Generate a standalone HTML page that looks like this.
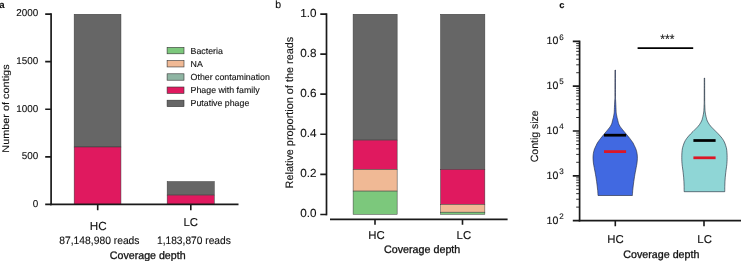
<!DOCTYPE html>
<html><head><meta charset="utf-8">
<style>
html,body{margin:0;padding:0;background:#fff;}
.cd{stroke:#111;stroke-width:0.3px;}
text{stroke:#111;stroke-width:0.12px;}
svg{display:block;will-change:transform;opacity:0.999;}
text{font-family:"Liberation Sans",sans-serif;fill:#111;text-rendering:geometricPrecision;}
</style></head><body>
<svg width="741" height="261" viewBox="0 0 741 261">
<rect width="741" height="261" fill="#fff"/>

<!-- ===== Panel a ===== -->
<g id="pa">
<text x="-0.8" y="7.6" font-size="9.6" font-weight="bold">a</text>
<!-- bars -->
<g stroke="#3a3a3a" stroke-width="0.5">
<rect x="74.15" y="14.25" width="46.8" height="132.75" fill="#666666"/>
<rect x="74.15" y="147" width="46.8" height="57.45" fill="#e0195f"/>
<rect x="167.15" y="181.55" width="47.1" height="13.55" fill="#666666"/>
<rect x="167.15" y="195.1" width="47.1" height="9.35" fill="#e0195f"/>
</g>
<!-- axes -->
<g stroke="#1a1a1a" stroke-width="1.7" fill="none">
<path d="M51.1 13.3V205.3"/>
<path d="M50.25 204.45H238.5"/>
<path d="M45.2 14.1H51.1M45.2 61.7H51.1M45.2 109.25H51.1M45.2 156.85H51.1M45.2 204.45H51.1"/>
<path d="M97.7 204.45V210.2M190.8 204.45V210.2" stroke-width="1.6"/>
</g>
<g font-size="9.9" text-anchor="end">
<text x="38.3" y="16.2">2000</text>
<text x="38.3" y="63.9">1500</text>
<text x="38.3" y="111.6">1000</text>
<text x="38.3" y="159.3">500</text>
<text x="38.3" y="207">0</text>
</g>
<text transform="translate(9 152.7) rotate(-90)" font-size="9.7" textLength="88.3" lengthAdjust="spacingAndGlyphs">Number of contigs</text>
<text x="98.2" y="229.7" font-size="11.7" text-anchor="middle">HC</text>
<text x="190.8" y="225.8" font-size="11.4" text-anchor="middle">LC</text>
<text x="59.3" y="244.3" font-size="10.8" textLength="80.2" lengthAdjust="spacingAndGlyphs">87,148,980 reads</text>
<text x="157" y="244.3" font-size="10.8" textLength="73.8" lengthAdjust="spacingAndGlyphs">1,183,870 reads</text>
<text class="cd" x="109.8" y="259.2" font-size="10.9" textLength="75.8" lengthAdjust="spacingAndGlyphs">Coverage depth</text>
<!-- legend -->
<g stroke="#333" stroke-width="0.6">
<rect x="167.1" y="47.4" width="16.9" height="6.4" fill="#7cc87c"/>
<rect x="167.1" y="60.55" width="16.9" height="6.4" fill="#f0b995"/>
<rect x="167.1" y="73.8" width="16.9" height="6.4" fill="#8fb5a3"/>
<rect x="167.1" y="87" width="16.9" height="6.4" fill="#e0195f"/>
<rect x="167.1" y="100.2" width="16.9" height="6.4" fill="#666666"/>
</g>
<g font-size="8.8">
<text x="190.6" y="53.5">Bacteria</text>
<text x="190.6" y="66.6">NA</text>
<text x="190.6" y="79.8">Other contamination</text>
<text x="190.6" y="93">Phage with family</text>
<text x="190.6" y="106.1">Putative phage</text>
</g>
</g>

<!-- ===== Panel b ===== -->
<g id="pb">
<text x="275.2" y="7.7" font-size="10.5">b</text>
<g stroke="#3a3a3a" stroke-width="0.5">
<rect x="353.1" y="14.25" width="44.05" height="125.85" fill="#666666"/>
<rect x="353.1" y="140.1" width="44.05" height="29.4" fill="#e0195f"/>
<rect x="353.1" y="169.5" width="44.05" height="21.6" fill="#f0b995"/>
<rect x="353.1" y="191.1" width="44.05" height="23.2" fill="#7cc87c"/>
<rect x="440.55" y="14.25" width="44.3" height="155.15" fill="#666666"/>
<rect x="440.55" y="169.4" width="44.3" height="35" fill="#e0195f"/>
<rect x="440.55" y="204.4" width="44.3" height="7.8" fill="#f0b995"/>
<rect x="440.55" y="212.2" width="44.3" height="2.05" fill="#7cc87c"/>
</g>
<g stroke="#1a1a1a" stroke-width="1.7" fill="none">
<path d="M326.5 13.3V215.35"/>
<path d="M320.3 14.1H326.5M320.3 54.15H326.5M320.3 94.2H326.5M320.3 134.25H326.5M320.3 174.3H326.5M320.3 214.5H326.5"/>
<path d="M330 219.4H507.6"/>
<path d="M375 219.4V224.8M462.5 219.4V224.8" stroke-width="1.6"/>
</g>
<g font-size="11.7" text-anchor="end">
<text x="316.4" y="16.6">1.0</text>
<text x="316.4" y="57.2">0.8</text>
<text x="316.4" y="97.1">0.6</text>
<text x="316.4" y="136.9">0.4</text>
<text x="316.4" y="177.1">0.2</text>
<text x="316.4" y="216.8">0.0</text>
</g>
<text transform="translate(292.6 188.4) rotate(-90)" font-size="10.7" textLength="151.6" lengthAdjust="spacingAndGlyphs">Relative proportion of the reads</text>
<text x="376.6" y="239.1" font-size="11.4" text-anchor="middle">HC</text>
<text x="463.9" y="239.1" font-size="11.4" text-anchor="middle">LC</text>
<text class="cd" x="384" y="253.4" font-size="10.9" textLength="76.3" lengthAdjust="spacingAndGlyphs">Coverage depth</text>
</g>

<!-- ===== Panel c ===== -->
<g id="pc">
<text x="559.2" y="7.6" font-size="9.3" font-weight="bold" stroke="none">c</text>
<!-- violins -->
<path id="v1" fill="#4169e1" stroke="#1c2233" stroke-width="0.6" d="M615.40 70.00C615.41 74.17 615.42 90.00 615.45 95.00C615.48 100.00 615.53 98.37 615.60 100.00C615.67 101.63 615.77 103.20 615.85 104.80C615.93 106.40 615.99 108.32 616.05 109.60C616.11 110.88 616.12 111.70 616.20 112.50C616.28 113.30 616.37 113.60 616.50 114.40C616.63 115.20 616.83 116.50 617.00 117.30C617.17 118.10 617.34 118.37 617.55 119.20C617.76 120.03 618.00 121.40 618.25 122.30C618.50 123.20 618.70 123.83 619.05 124.60C619.40 125.37 619.83 126.13 620.35 126.90C620.88 127.67 621.58 128.43 622.20 129.20C622.83 129.97 623.47 130.73 624.10 131.50C624.73 132.27 625.37 133.03 626.00 133.80C626.63 134.57 627.27 135.33 627.90 136.10C628.53 136.87 629.20 137.63 629.80 138.40C630.40 139.17 630.95 139.93 631.50 140.70C632.05 141.47 632.65 142.23 633.10 143.00C633.55 143.77 633.83 144.53 634.20 145.30C634.57 146.07 634.95 146.78 635.30 147.60C635.65 148.42 636.00 149.17 636.30 150.20C636.60 151.23 636.92 152.43 637.10 153.80C637.28 155.17 637.42 156.87 637.40 158.40C637.38 159.93 637.20 161.47 637.00 163.00C636.80 164.53 636.41 166.43 636.20 167.60C635.99 168.77 635.90 169.23 635.75 170.00C635.60 170.77 635.51 171.07 635.30 172.20C635.09 173.33 634.75 175.27 634.50 176.80C634.25 178.33 634.02 179.87 633.80 181.40C633.58 182.93 633.38 184.47 633.20 186.00C633.02 187.53 632.83 189.02 632.70 190.60C632.57 192.18 632.45 194.68 632.40 195.50L598.00 195.50C597.95 194.68 597.83 192.18 597.70 190.60C597.57 189.02 597.38 187.53 597.20 186.00C597.02 184.47 596.82 182.93 596.60 181.40C596.38 179.87 596.15 178.33 595.90 176.80C595.65 175.27 595.31 173.33 595.10 172.20C594.89 171.07 594.80 170.77 594.65 170.00C594.50 169.23 594.41 168.77 594.20 167.60C593.99 166.43 593.60 164.53 593.40 163.00C593.20 161.47 593.02 159.93 593.00 158.40C592.98 156.87 593.12 155.17 593.30 153.80C593.48 152.43 593.80 151.23 594.10 150.20C594.40 149.17 594.75 148.42 595.10 147.60C595.45 146.78 595.83 146.07 596.20 145.30C596.57 144.53 596.85 143.77 597.30 143.00C597.75 142.23 598.35 141.47 598.90 140.70C599.45 139.93 600.00 139.17 600.60 138.40C601.20 137.63 601.87 136.87 602.50 136.10C603.13 135.33 603.77 134.57 604.40 133.80C605.03 133.03 605.67 132.27 606.30 131.50C606.93 130.73 607.58 129.97 608.20 129.20C608.83 128.43 609.53 127.67 610.05 126.90C610.58 126.13 611.00 125.37 611.35 124.60C611.70 123.83 611.90 123.20 612.15 122.30C612.40 121.40 612.64 120.03 612.85 119.20C613.06 118.37 613.23 118.10 613.40 117.30C613.58 116.50 613.77 115.20 613.90 114.40C614.03 113.60 614.12 113.30 614.20 112.50C614.28 111.70 614.29 110.88 614.35 109.60C614.41 108.32 614.48 106.40 614.55 104.80C614.63 103.20 614.73 101.63 614.80 100.00C614.87 98.37 614.92 100.00 614.95 95.00C614.98 90.00 614.99 74.17 615.00 70.00Z"/>
<path id="v2" fill="#8fd6d6" stroke="#1c2233" stroke-width="0.6" d="M704.65 78.00C704.66 81.67 704.68 95.50 704.70 100.00C704.73 104.50 704.76 103.50 704.80 105.00C704.84 106.50 704.89 107.85 704.95 109.00C705.01 110.15 705.06 111.03 705.15 111.90C705.24 112.77 705.36 113.43 705.50 114.20C705.64 114.97 705.82 115.73 706.00 116.50C706.18 117.27 706.45 118.22 706.60 118.80C706.75 119.38 706.67 119.42 706.90 120.00C707.13 120.58 707.58 121.53 708.00 122.30C708.42 123.07 708.85 123.83 709.40 124.60C709.95 125.37 710.60 126.13 711.30 126.90C712.00 127.67 712.83 128.43 713.60 129.20C714.37 129.97 715.13 130.73 715.90 131.50C716.67 132.27 717.47 133.03 718.20 133.80C718.93 134.57 719.63 135.33 720.30 136.10C720.97 136.87 721.63 137.63 722.20 138.40C722.77 139.17 723.27 139.93 723.70 140.70C724.13 141.47 724.48 142.23 724.80 143.00C725.12 143.77 725.35 144.53 725.60 145.30C725.85 146.07 726.10 146.72 726.30 147.60C726.50 148.48 726.67 149.33 726.80 150.60C726.93 151.87 727.05 153.67 727.10 155.20C727.15 156.73 727.13 158.43 727.10 159.80C727.07 161.17 726.96 162.53 726.90 163.40C726.84 164.27 726.84 164.23 726.75 165.00C726.66 165.77 726.52 166.73 726.35 168.00C726.18 169.27 725.93 171.07 725.75 172.60C725.57 174.13 725.38 175.67 725.25 177.20C725.12 178.73 725.03 180.27 724.95 181.80C724.88 183.33 724.83 184.75 724.80 186.40C724.77 188.05 724.76 190.82 724.75 191.70L684.15 191.70C684.14 190.82 684.13 188.05 684.10 186.40C684.07 184.75 684.03 183.33 683.95 181.80C683.88 180.27 683.78 178.73 683.65 177.20C683.52 175.67 683.33 174.13 683.15 172.60C682.97 171.07 682.72 169.27 682.55 168.00C682.38 166.73 682.24 165.77 682.15 165.00C682.06 164.23 682.06 164.27 682.00 163.40C681.94 162.53 681.83 161.17 681.80 159.80C681.77 158.43 681.75 156.73 681.80 155.20C681.85 153.67 681.97 151.87 682.10 150.60C682.23 149.33 682.40 148.48 682.60 147.60C682.80 146.72 683.05 146.07 683.30 145.30C683.55 144.53 683.78 143.77 684.10 143.00C684.42 142.23 684.77 141.47 685.20 140.70C685.63 139.93 686.13 139.17 686.70 138.40C687.27 137.63 687.93 136.87 688.60 136.10C689.27 135.33 689.97 134.57 690.70 133.80C691.43 133.03 692.23 132.27 693.00 131.50C693.77 130.73 694.53 129.97 695.30 129.20C696.07 128.43 696.90 127.67 697.60 126.90C698.30 126.13 698.95 125.37 699.50 124.60C700.05 123.83 700.48 123.07 700.90 122.30C701.32 121.53 701.77 120.58 702.00 120.00C702.23 119.42 702.15 119.38 702.30 118.80C702.45 118.22 702.72 117.27 702.90 116.50C703.08 115.73 703.26 114.97 703.40 114.20C703.54 113.43 703.66 112.77 703.75 111.90C703.84 111.03 703.89 110.15 703.95 109.00C704.01 107.85 704.06 106.50 704.10 105.00C704.14 103.50 704.18 104.50 704.20 100.00C704.23 95.50 704.24 81.67 704.25 78.00Z"/>
<g stroke-width="2.75" fill="none">
<path d="M604 135.2H626.1" stroke="#000"/>
<path d="M604 151.6H626.1" stroke="#dc1626"/>
<path d="M693.4 140.5H715.6" stroke="#000"/>
<path d="M693.4 157.8H715.6" stroke="#dc1626"/>
</g>
<!-- axes -->
<g stroke="#1a1a1a" stroke-width="1.7" fill="none">
<path d="M579.6 40.6V221.45"/>
<path d="M578.75 220.6H741"/>
<path d="M572.8 41.40H579.6M572.8 86.20H579.6M572.8 131.00H579.6M572.8 175.80H579.6M572.8 220.60H579.6"/>
<path d="M615.3 220.6V226.3M704 220.6V226.3" stroke-width="1.6"/>
</g>
<path id="minor" stroke="#1a1a1a" stroke-width="0.9" fill="none" d="M576.2 72.71H579.6M576.2 64.82H579.6M576.2 59.23H579.6M576.2 54.89H579.6M576.2 51.34H579.6M576.2 48.34H579.6M576.2 45.74H579.6M576.2 43.45H579.6M576.2 117.51H579.6M576.2 109.62H579.6M576.2 104.03H579.6M576.2 99.69H579.6M576.2 96.14H579.6M576.2 93.14H579.6M576.2 90.54H579.6M576.2 88.25H579.6M576.2 162.31H579.6M576.2 154.42H579.6M576.2 148.83H579.6M576.2 144.49H579.6M576.2 140.94H579.6M576.2 137.94H579.6M576.2 135.34H579.6M576.2 133.05H579.6M576.2 207.11H579.6M576.2 199.22H579.6M576.2 193.63H579.6M576.2 189.29H579.6M576.2 185.74H579.6M576.2 182.74H579.6M576.2 180.14H579.6M576.2 177.85H579.6"/>
<path d="M637.6 48.1H693.2" stroke="#000" stroke-width="1.9"/>
<text x="667.4" y="42.9" font-size="12.2" text-anchor="middle">***</text>
<g font-size="10.6">
<text x="546.6" y="44.4">10<tspan font-size="8" dy="-4.8" dx="0.8">6</tspan></text>
<text x="546.6" y="89.2">10<tspan font-size="8" dy="-4.8" dx="0.8">5</tspan></text>
<text x="546.6" y="134.0">10<tspan font-size="8" dy="-4.8" dx="0.8">4</tspan></text>
<text x="546.6" y="178.75">10<tspan font-size="8" dy="-4.8" dx="0.8">3</tspan></text>
<text x="546.6" y="223.5">10<tspan font-size="8" dy="-4.8" dx="0.8">2</tspan></text>
</g>
<text transform="translate(537.9 162.2) rotate(-90)" font-size="10.5" textLength="51.8" lengthAdjust="spacingAndGlyphs">Contig size</text>
<text x="615.6" y="243" font-size="11.4" text-anchor="middle">HC</text>
<text x="704.6" y="243" font-size="11.4" text-anchor="middle">LC</text>
<text class="cd" x="623.3" y="258.2" font-size="10.9" textLength="76.1" lengthAdjust="spacingAndGlyphs">Coverage depth</text>
</g>
</svg>
</body></html>
